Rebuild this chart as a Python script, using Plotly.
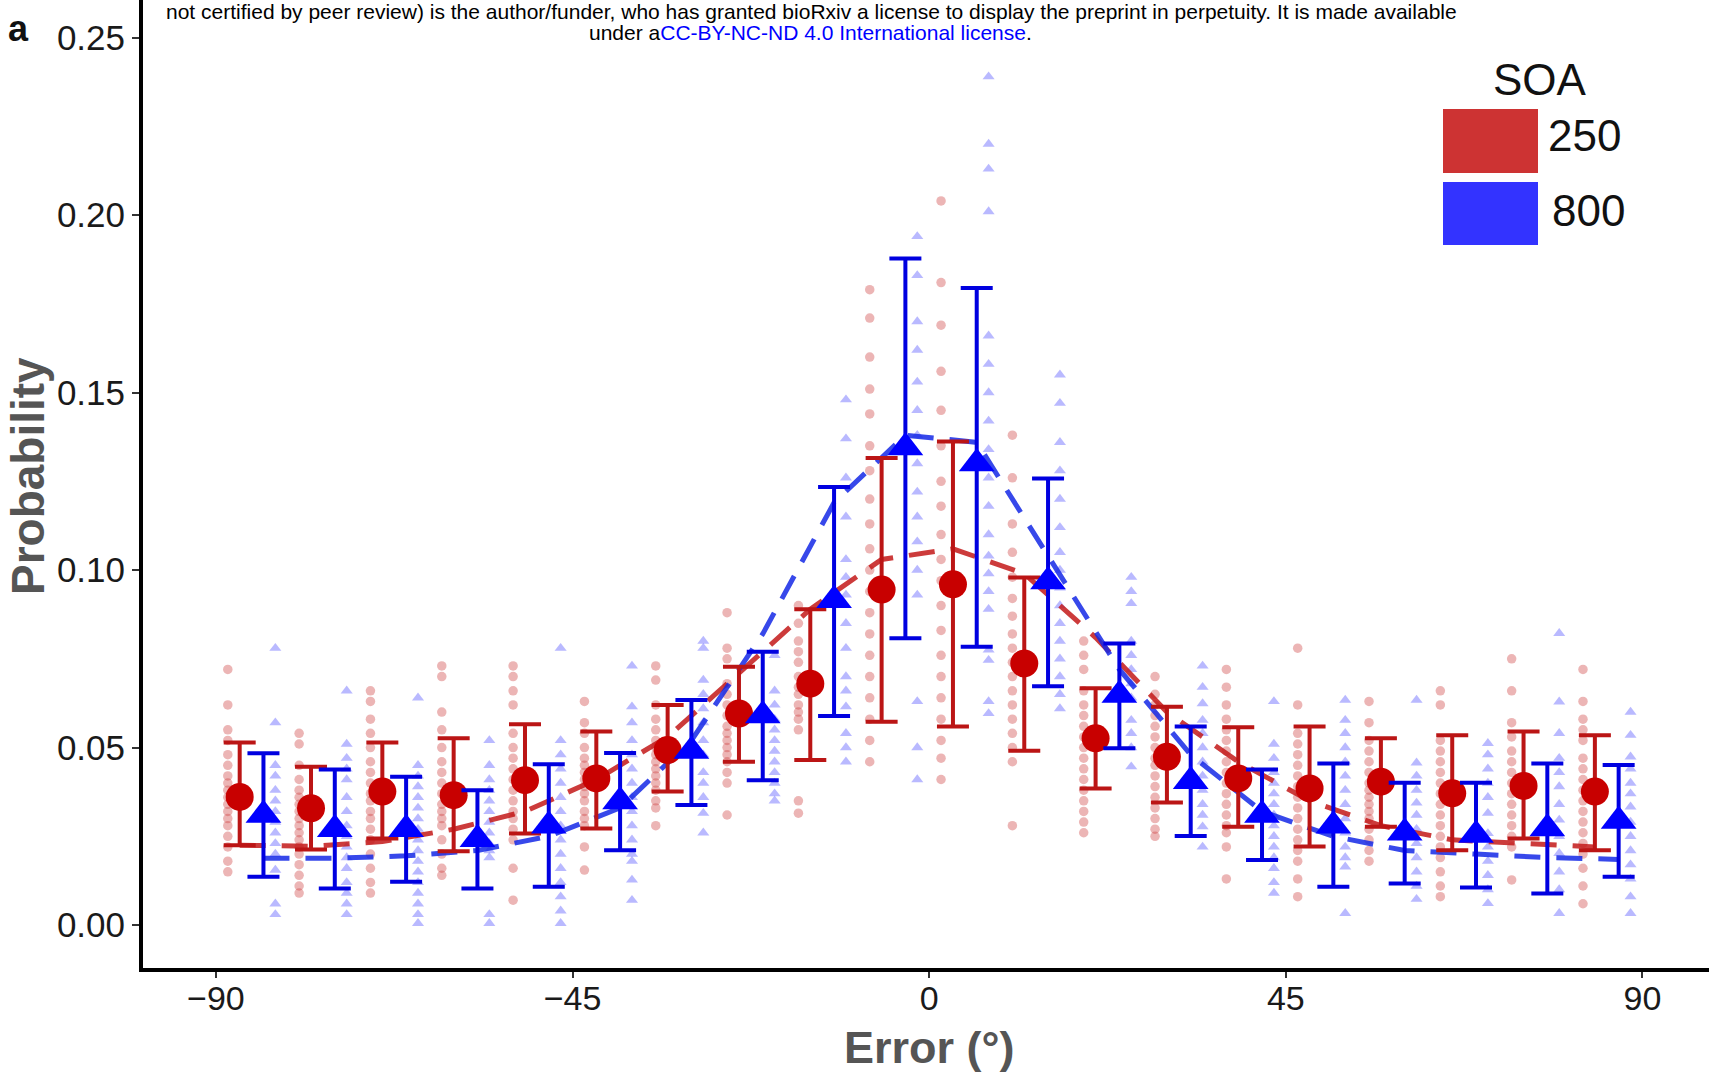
import plotly.graph_objects as go

# ---------------- data ----------------
bins = [-85.5, -76.5, -67.5, -58.5, -49.5, -40.5, -31.5, -22.5, -13.5, -4.5,
        4.5, 13.5, 22.5, 31.5, 40.5, 49.5, 58.5, 67.5, 76.5, 85.5]

red_mean = [0.0361, 0.0329, 0.0376, 0.0366, 0.0408, 0.0413, 0.0493, 0.0596, 0.0680, 0.0945,
            0.0960, 0.0737, 0.0526, 0.0474, 0.0413, 0.0385, 0.0404, 0.0371, 0.0392, 0.0376]
red_hi = [0.0514, 0.0446, 0.0514, 0.0526, 0.0566, 0.0545, 0.0620, 0.0728, 0.0890, 0.1316,
          0.1362, 0.0979, 0.0667, 0.0615, 0.0557, 0.0559, 0.0526, 0.0535, 0.0545, 0.0535]
red_lo = [0.0225, 0.0213, 0.0244, 0.0208, 0.0258, 0.0272, 0.0376, 0.0460, 0.0465, 0.0573,
          0.0559, 0.0491, 0.0385, 0.0345, 0.0277, 0.0221, 0.0277, 0.0211, 0.0244, 0.0211]

blue_mean = [0.0310, 0.0270, 0.0270, 0.0242, 0.0280, 0.0348, 0.0490, 0.0590, 0.0915, 0.1345,
             0.1300, 0.0968, 0.0648, 0.0405, 0.0310, 0.0280, 0.0260, 0.0254, 0.0272, 0.0293]
blue_hi = [0.0484, 0.0438, 0.0418, 0.0380, 0.0453, 0.0485, 0.0634, 0.0770, 0.1234, 0.1878,
           0.1795, 0.1258, 0.0793, 0.0559, 0.0438, 0.0455, 0.0401, 0.0401, 0.0455, 0.0451]
blue_lo = [0.0136, 0.0103, 0.0122, 0.0103, 0.0108, 0.0211, 0.0338, 0.0408, 0.0589, 0.0808,
           0.0784, 0.0673, 0.0498, 0.0251, 0.0183, 0.0108, 0.0117, 0.0106, 0.0089, 0.0136]

red_fit = [0.0225, 0.0222, 0.0235, 0.0270, 0.0320, 0.0410, 0.0530, 0.0710, 0.0890, 0.1030,
           0.1060, 0.0990, 0.0810, 0.0600, 0.0460, 0.0350, 0.0280, 0.0240, 0.0230, 0.0220]
blue_fit = [0.0188, 0.0188, 0.0195, 0.0210, 0.0250, 0.0330, 0.0520, 0.0820, 0.1190, 0.1380,
            0.1360, 0.1040, 0.0720, 0.0480, 0.0320, 0.0250, 0.0210, 0.0200, 0.0190, 0.0185]

red_pts = [
    [0.072, 0.062, 0.055, 0.052, 0.048, 0.045, 0.042, 0.040, 0.038, 0.036, 0.034, 0.032, 0.030, 0.028, 0.025, 0.022, 0.018, 0.015],
    [0.054, 0.051, 0.045, 0.041, 0.038, 0.036, 0.034, 0.032, 0.030, 0.028, 0.026, 0.024, 0.022, 0.020, 0.017, 0.014, 0.011, 0.009],
    [0.066, 0.063, 0.058, 0.054, 0.050, 0.046, 0.043, 0.040, 0.037, 0.035, 0.032, 0.030, 0.027, 0.024, 0.020, 0.016, 0.012, 0.009],
    [0.073, 0.070, 0.060, 0.055, 0.050, 0.046, 0.043, 0.040, 0.037, 0.034, 0.032, 0.030, 0.028, 0.024, 0.020, 0.016, 0.014],
    [0.073, 0.070, 0.066, 0.062, 0.054, 0.050, 0.047, 0.044, 0.041, 0.038, 0.035, 0.032, 0.030, 0.027, 0.024, 0.016, 0.007],
    [0.063, 0.057, 0.054, 0.050, 0.047, 0.045, 0.043, 0.041, 0.039, 0.037, 0.035, 0.032, 0.030, 0.028, 0.022, 0.0155],
    [0.073, 0.069, 0.062, 0.058, 0.055, 0.052, 0.050, 0.048, 0.046, 0.044, 0.042, 0.040, 0.038, 0.035, 0.033, 0.028],
    [0.088, 0.078, 0.075, 0.068, 0.065, 0.062, 0.059, 0.056, 0.054, 0.052, 0.050, 0.048, 0.046, 0.043, 0.040, 0.031],
    [0.090, 0.085, 0.080, 0.077, 0.074, 0.070, 0.067, 0.065, 0.062, 0.060, 0.058, 0.055, 0.035, 0.0315],
    [0.179, 0.171, 0.160, 0.151, 0.144, 0.135, 0.128, 0.120, 0.113, 0.106, 0.100, 0.094, 0.088, 0.082, 0.076, 0.070, 0.064, 0.058, 0.052, 0.046],
    [0.204, 0.181, 0.169, 0.156, 0.145, 0.135, 0.125, 0.118, 0.110, 0.103, 0.097, 0.090, 0.083, 0.076, 0.070, 0.064, 0.058, 0.052, 0.047, 0.041],
    [0.138, 0.126, 0.113, 0.105, 0.098, 0.092, 0.087, 0.082, 0.078, 0.074, 0.070, 0.066, 0.062, 0.058, 0.054, 0.050, 0.046, 0.028],
    [0.080, 0.076, 0.072, 0.066, 0.062, 0.059, 0.056, 0.053, 0.050, 0.047, 0.044, 0.041, 0.038, 0.035, 0.032, 0.029, 0.026],
    [0.070, 0.065, 0.062, 0.059, 0.056, 0.053, 0.050, 0.047, 0.045, 0.042, 0.039, 0.036, 0.033, 0.030, 0.027, 0.025],
    [0.072, 0.067, 0.062, 0.058, 0.055, 0.052, 0.049, 0.046, 0.043, 0.040, 0.037, 0.034, 0.031, 0.028, 0.026, 0.022, 0.013],
    [0.078, 0.062, 0.054, 0.051, 0.048, 0.045, 0.042, 0.039, 0.036, 0.033, 0.030, 0.027, 0.024, 0.021, 0.018, 0.013, 0.008],
    [0.063, 0.057, 0.052, 0.049, 0.046, 0.043, 0.040, 0.038, 0.036, 0.034, 0.032, 0.030, 0.027, 0.024, 0.021, 0.018],
    [0.066, 0.062, 0.052, 0.049, 0.046, 0.043, 0.040, 0.037, 0.034, 0.031, 0.028, 0.025, 0.022, 0.019, 0.015, 0.011, 0.008],
    [0.075, 0.066, 0.057, 0.053, 0.049, 0.046, 0.043, 0.040, 0.037, 0.034, 0.031, 0.028, 0.025, 0.022, 0.0127],
    [0.072, 0.063, 0.058, 0.055, 0.052, 0.047, 0.044, 0.041, 0.038, 0.035, 0.032, 0.029, 0.026, 0.023, 0.020, 0.016, 0.011, 0.006],
]

blue_pts = [
    [0.078, 0.057, 0.045, 0.042, 0.038, 0.035, 0.032, 0.029, 0.026, 0.023, 0.020, 0.0155, 0.006, 0.003],
    [0.066, 0.051, 0.047, 0.044, 0.041, 0.036, 0.032, 0.028, 0.025, 0.022, 0.019, 0.016, 0.012, 0.009, 0.006, 0.003],
    [0.064, 0.045, 0.042, 0.039, 0.036, 0.033, 0.030, 0.027, 0.024, 0.021, 0.018, 0.015, 0.012, 0.009, 0.006, 0.003, 0.0005],
    [0.052, 0.045, 0.041, 0.038, 0.035, 0.032, 0.029, 0.026, 0.023, 0.021, 0.019, 0.003, 0.0005],
    [0.078, 0.052, 0.048, 0.044, 0.040, 0.036, 0.032, 0.028, 0.024, 0.020, 0.016, 0.012, 0.008, 0.004, 0.0005],
    [0.073, 0.0615, 0.057, 0.052, 0.048, 0.044, 0.040, 0.036, 0.032, 0.028, 0.024, 0.020, 0.018, 0.0127, 0.007],
    [0.080, 0.078, 0.069, 0.065, 0.061, 0.057, 0.052, 0.048, 0.043, 0.040, 0.036, 0.0315, 0.026],
    [0.076, 0.066, 0.062, 0.058, 0.055, 0.052, 0.049, 0.046, 0.043, 0.040, 0.037, 0.035],
    [0.148, 0.137, 0.126, 0.115, 0.103, 0.098, 0.093, 0.085, 0.078, 0.070, 0.066, 0.0615, 0.054, 0.050, 0.046],
    [0.194, 0.183, 0.170, 0.162, 0.153, 0.145, 0.138, 0.130, 0.122, 0.115, 0.108, 0.100, 0.093, 0.063, 0.050, 0.041],
    [0.239, 0.220, 0.213, 0.201, 0.166, 0.158, 0.150, 0.142, 0.134, 0.126, 0.118, 0.110, 0.104, 0.099, 0.094, 0.089, 0.0775, 0.0746, 0.063, 0.0596],
    [0.155, 0.147, 0.136, 0.128, 0.120, 0.112, 0.105, 0.100, 0.095, 0.090, 0.085, 0.080, 0.075, 0.070, 0.065, 0.061],
    [0.098, 0.094, 0.0906, 0.080, 0.076, 0.072, 0.068, 0.064, 0.0577, 0.054, 0.050, 0.0446],
    [0.073, 0.067, 0.0624, 0.0577, 0.054, 0.050, 0.046, 0.042, 0.038, 0.034, 0.031, 0.0277, 0.022],
    [0.063, 0.051, 0.047, 0.043, 0.040, 0.037, 0.034, 0.031, 0.028, 0.025, 0.022, 0.019, 0.016, 0.012, 0.009],
    [0.0634, 0.0577, 0.054, 0.050, 0.046, 0.042, 0.038, 0.034, 0.030, 0.026, 0.022, 0.019, 0.0164, 0.0033],
    [0.0634, 0.0457, 0.042, 0.038, 0.0344, 0.031, 0.027, 0.023, 0.019, 0.015, 0.011, 0.0073],
    [0.0512, 0.048, 0.044, 0.040, 0.036, 0.0315, 0.0258, 0.022, 0.018, 0.014, 0.010, 0.0061],
    [0.0822, 0.0629, 0.054, 0.047, 0.043, 0.039, 0.034, 0.0296, 0.025, 0.0202, 0.015, 0.010, 0.0033],
    [0.060, 0.0535, 0.0474, 0.044, 0.040, 0.037, 0.0333, 0.029, 0.025, 0.021, 0.017, 0.013, 0.008, 0.0033],
]

x_ticks = [-90, -45, 0, 45, 90]
x_ticktext = ["\u221290", "\u221245", "0", "45", "90"]
y_ticks = [0.0, 0.05, 0.10, 0.15, 0.20, 0.25]
legend_title = "SOA"
legend_labels = ["250", "800"]

# ---------------- styling / geometry ----------------
W, H = 1709, 1072
ML, MR, MT, MB = 143, 0, 0, 104
PW, PH = W - ML - MR, H - MT - MB
FONT = "Liberation Sans, Arial, sans-serif"

RED_PT = "rgba(205,60,60,0.38)"
BLUE_PT = "rgba(60,60,255,0.36)"
RED = "#c80000"
RED_ERR = "#bb1515"
BLUE = "#0000ff"
BLUE_ERR = "#0000e0"
RED_LINE = "rgba(195,25,25,0.85)"
BLUE_LINE = "rgba(20,40,230,0.85)"


def px(x):
    return (x - ML) / PW


def py(y):
    return 1 - (y - MT) / PH


red_x = [c - 1.5 for c in bins]
blue_x = [c + 1.5 for c in bins]

rpx, rpy = [], []
for c, vals in zip(bins, red_pts):
    rpx += [c - 3.0] * len(vals)
    rpy += vals
bpx, bpy = [], []
for c, vals in zip(bins, blue_pts):
    bpx += [c + 3.0] * len(vals)
    bpy += vals

fig = go.Figure()

fig.add_trace(go.Scatter(x=rpx, y=rpy, mode="markers", showlegend=False,
                         marker=dict(symbol="circle", size=9.5, color=RED_PT, line=dict(width=0))))
fig.add_trace(go.Scatter(x=bpx, y=bpy, mode="markers", showlegend=False,
                         marker=dict(symbol="triangle-up", size=10.5, color=BLUE_PT, line=dict(width=0))))

fig.add_trace(go.Scatter(x=red_x, y=red_fit, mode="lines", showlegend=False,
                         line=dict(color=RED_LINE, width=5, dash="26px,16px")))
fig.add_trace(go.Scatter(x=blue_x, y=blue_fit, mode="lines", showlegend=False,
                         line=dict(color=BLUE_LINE, width=5, dash="26px,16px")))

fig.add_trace(go.Scatter(
    x=red_x, y=red_mean, mode="markers", showlegend=False,
    marker=dict(symbol="circle", size=28, color=RED, line=dict(width=0)),
    error_y=dict(type="data", symmetric=False,
                 array=[h - m for h, m in zip(red_hi, red_mean)],
                 arrayminus=[m - l for m, l in zip(red_mean, red_lo)],
                 color=RED_ERR, thickness=4, width=16)))
fig.add_trace(go.Scatter(
    x=blue_x, y=blue_mean, mode="markers", showlegend=False,
    marker=dict(symbol="triangle-up", size=31, color=BLUE, line=dict(width=0)),
    error_y=dict(type="data", symmetric=False,
                 array=[h - m for h, m in zip(blue_hi, blue_mean)],
                 arrayminus=[m - l for m, l in zip(blue_mean, blue_lo)],
                 color=BLUE_ERR, thickness=4, width=16)))

annotations = [
    dict(text="Error (°)", x=px(929), y=py(1047), xref="paper", yref="paper",
         showarrow=False, xanchor="center", yanchor="middle",
         font=dict(family=FONT, size=45, color="#555555", weight="bold")),
    dict(text="Probability", x=px(28), y=py(476), xref="paper", yref="paper",
         showarrow=False, xanchor="center", yanchor="middle", textangle=-90,
         font=dict(family=FONT, size=46, color="#555555", weight="bold")),
    dict(text="a", x=px(18), y=py(28), xref="paper", yref="paper",
         showarrow=False, xanchor="center", yanchor="middle",
         font=dict(family=FONT, size=36, color="#111111", weight="bold")),
    dict(text="not certified by peer review) is the author/funder, who has granted bioRxiv a license to display the preprint in perpetuity. It is made available",
         x=px(811), y=py(12), xref="paper", yref="paper", showarrow=False,
         xanchor="center", yanchor="middle",
         font=dict(family=FONT, size=21, color="#000000")),
    dict(text="under a<span style='color:#0000ff'>CC-BY-NC-ND 4.0 International license</span>.",
         x=px(810), y=py(32), xref="paper", yref="paper", showarrow=False,
         xanchor="center", yanchor="middle",
         font=dict(family=FONT, size=21, color="#000000")),
    dict(text=legend_title, x=px(1540), y=py(80), xref="paper", yref="paper",
         showarrow=False, xanchor="center", yanchor="middle",
         font=dict(family=FONT, size=44, color="#111111")),
    dict(text=legend_labels[0], x=px(1546), y=py(136), xref="paper", yref="paper",
         showarrow=False, xanchor="left", yanchor="middle",
         font=dict(family=FONT, size=44, color="#111111")),
    dict(text=legend_labels[1], x=px(1550), y=py(211), xref="paper", yref="paper",
         showarrow=False, xanchor="left", yanchor="middle",
         font=dict(family=FONT, size=44, color="#111111")),
]

shapes = [
    dict(type="rect", xref="paper", yref="paper", x0=px(1443), x1=px(1538),
         y0=py(173), y1=py(109), fillcolor="#cd3333", line=dict(width=0)),
    dict(type="rect", xref="paper", yref="paper", x0=px(1443), x1=px(1538),
         y0=py(245), y1=py(182), fillcolor="#3333ff", line=dict(width=0)),
]

fig.update_layout(
    width=W, height=H,
    margin=dict(l=ML, r=MR, t=MT, b=MB, pad=0),
    paper_bgcolor="white", plot_bgcolor="white",
    font=dict(family=FONT, color="#1a1a1a"),
    annotations=annotations, shapes=shapes,
    showlegend=False,
    xaxis=dict(range=[-99.2, 98.4], tickvals=x_ticks, ticktext=x_ticktext,
               showgrid=False, zeroline=False, showline=True, linecolor="#000000",
               linewidth=4, ticks="outside", ticklen=6, tickwidth=2, tickcolor="#333333",
               ticklabelstandoff=-9,
               tickfont=dict(family=FONT, size=34, color="#1a1a1a")),
    yaxis=dict(range=[-0.0121, 0.2606], tickvals=y_ticks, tickformat=".2f",
               showgrid=False, zeroline=False, showline=True, linecolor="#000000",
               linewidth=4, ticks="outside", ticklen=7, tickwidth=2, tickcolor="#333333",
               tickfont=dict(family=FONT, size=35, color="#1a1a1a")),
)

fig.write_html("out.html", config={"displayModeBar": False},
               post_script="document.body.style.margin='0';document.body.style.overflow='hidden';")
